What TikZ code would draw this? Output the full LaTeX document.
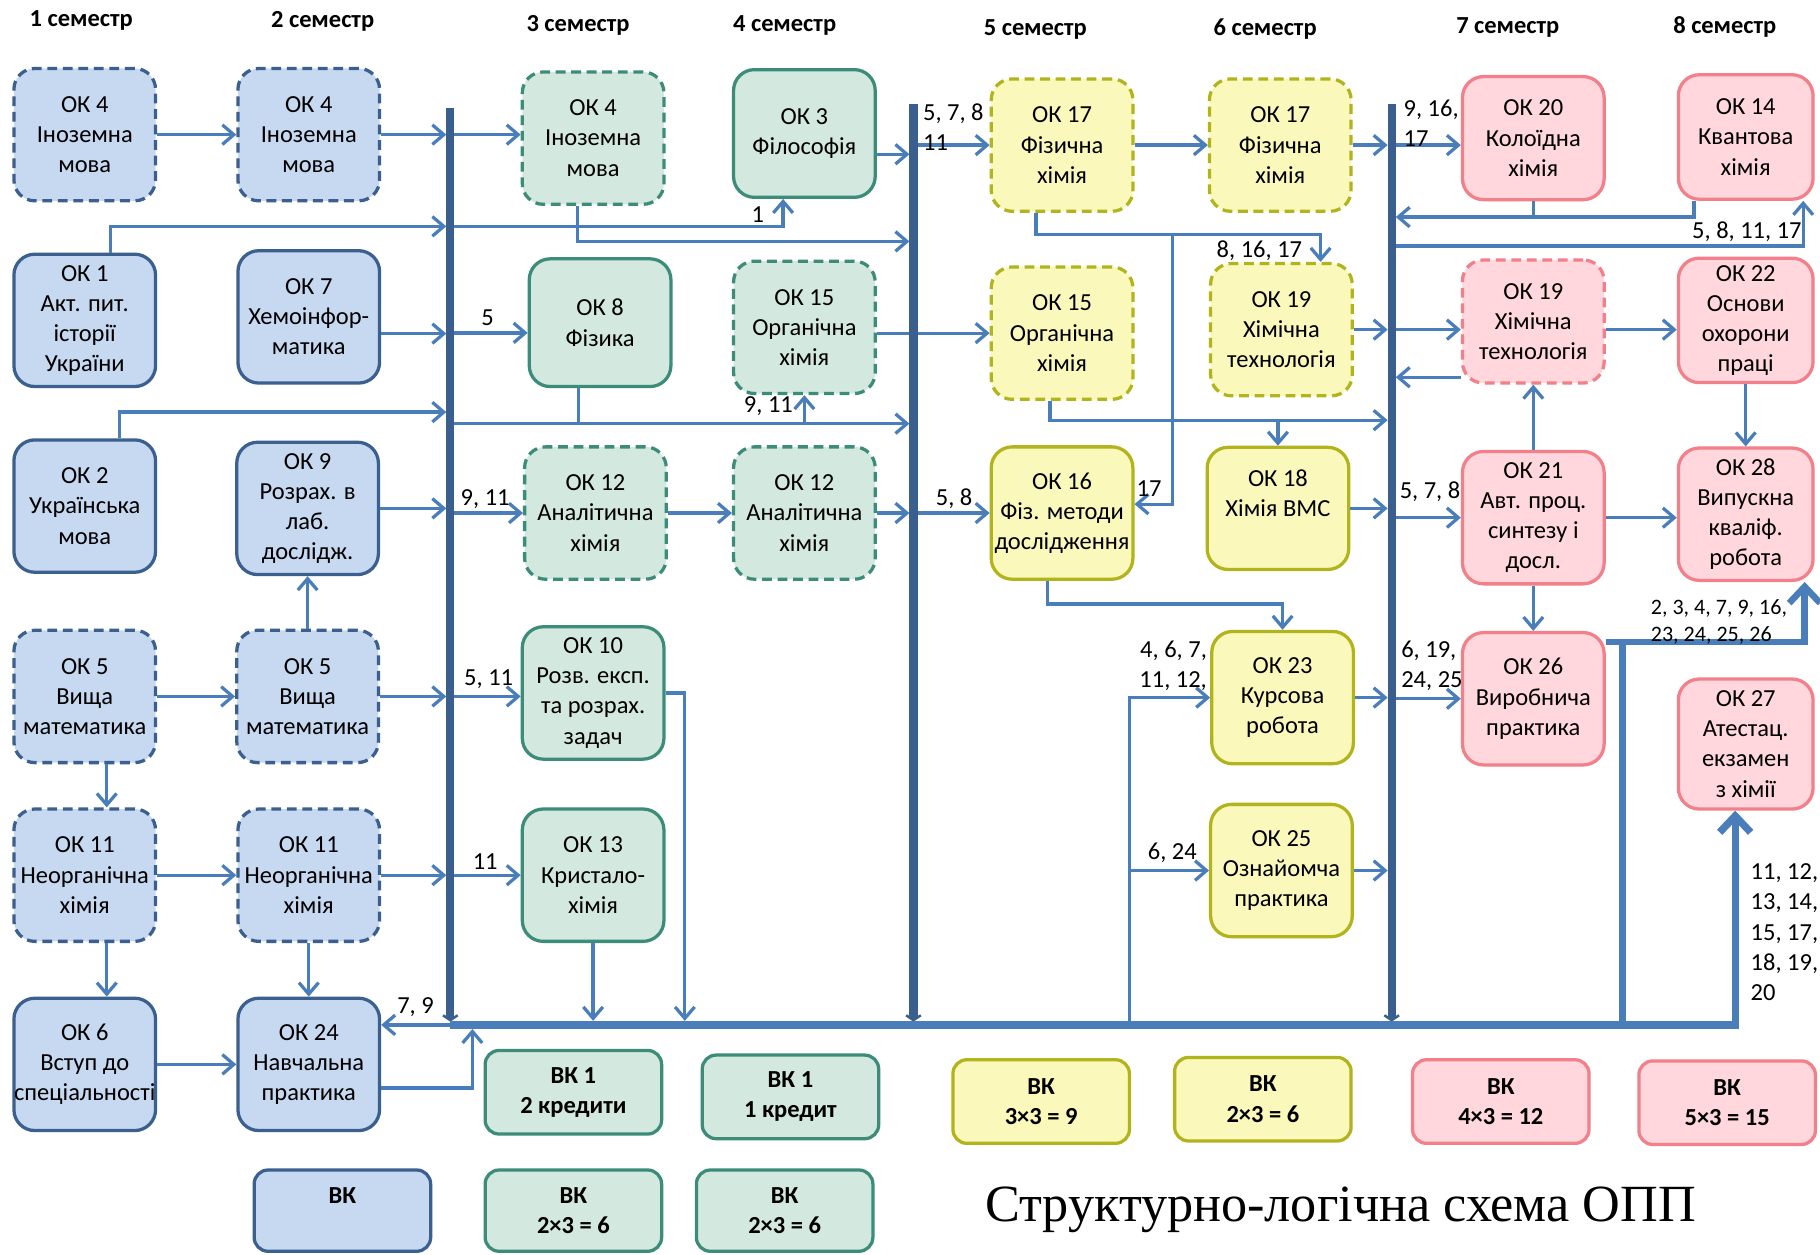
\documentclass[tikz,border=0pt]{standalone}
\usepackage{fontspec}
\setmainfont{Carlito}
\newfontfamily\titlefont{Liberation Serif}
\usetikzlibrary{arrows.meta}
\definecolor{blfill}{HTML}{C6D9F1}
\definecolor{blline}{HTML}{3B5F8E}
\definecolor{grfill}{HTML}{D3E8DF}
\definecolor{grline}{HTML}{3D8C79}
\definecolor{yefill}{HTML}{FAF8BB}
\definecolor{yeline}{HTML}{B2B41E}
\definecolor{pkfill}{HTML}{FFD7DC}
\definecolor{pkline}{HTML}{F27F8A}
\definecolor{arblue}{HTML}{4A7EBB}
\definecolor{barblue}{HTML}{3A5E8E}
\newcommand{\okfont}{\fontsize{15}{18.5}\selectfont}

\begin{document}
\begin{tikzpicture}[x=0.025cm, y=-0.025cm,
ok/.style={draw, rounded corners=0.45cm, line width=2pt, minimum width=3.05cm, minimum height=2.85cm, align=center, inner sep=1pt, font=\okfont},
bl/.style={ok, fill=blfill, draw=blline},
gr/.style={ok, fill=grfill, draw=grline},
ye/.style={ok, fill=yefill, draw=yeline},
pk/.style={ok, fill=pkfill, draw=pkline},
dsh/.style={dash pattern=on 6pt off 3.5pt},
vk/.style={draw, rounded corners=0.3cm, line width=2pt, minimum width=3.8cm, minimum height=1.8cm, align=center, inner sep=1pt, font=\okfont\bfseries},
ar/.style={draw=arblue, line width=2pt, -{Straight Barb[length=7pt,width=12pt]}},
ln/.style={draw=arblue, line width=2pt},
tobar/.style={shorten >=2.5pt},
bar/.style={draw=barblue, line width=5pt, shorten >=2pt, -{Straight Barb[length=3pt,width=9pt,line width=1.5pt]}},
bus/.style={draw=arblue, line width=4.5pt, -{Straight Barb[length=10pt,width=19pt]}},
thk/.style={draw=arblue, line width=4pt, -{Straight Barb[length=10pt,width=19pt]}},
thkln/.style={draw=arblue, line width=4pt},
lbl/.style={font=\okfont, inner sep=0pt},
sem/.style={font=\okfont\bfseries, inner sep=0pt}]
\fill[white] (0,0) rectangle (1568,1081);
\useasboundingbox (0,0) rectangle (1568,1081);

\node[sem] (sem1) at (70,18) {1 семестр};
\node[sem] (sem2) at (278,18) {2 семестр};
\node[sem] (sem3) at (498,22) {3 семестр};
\node[sem] (sem4) at (676,22) {4 семестр};
\node[sem] (sem5) at (892,25) {5 семестр};
\node[sem] (sem6) at (1090,25) {6 семестр};
\node[sem] (sem7) at (1299,24) {7 семестр};
\node[sem] (sem8) at (1486,23) {8 семестр};

\node[bl, dsh] (ok4a) at (73,116) {ОК 4\\Іноземна\\мова};
\node[bl] (ok1) at (73,276) {ОК 1\\Акт. пит.\\історії\\України};
\node[bl] (ok2) at (73,436) {ОК 2\\Українська\\мова};
\node[bl, dsh] (ok5a) at (73,600) {ОК 5\\Вища\\математика};
\node[bl, dsh] (ok11a) at (73,754) {ОК 11\\Неорганічна\\хімія};
\node[bl] (ok6) at (73,917) {ОК 6\\Вступ до\\\makebox[2.9cm]{спеціальності}};

\node[bl, dsh] (ok4b) at (266,116) {ОК 4\\Іноземна\\мова};
\node[bl] (ok7) at (266,273) {ОК 7\\Хемоінфор-\\матика};
\node[bl] (ok9) at (265,438) {ОК 9\\Розрах. в\\лаб.\\дослідж.};
\node[bl, dsh] (ok5b) at (265,600) {ОК 5\\Вища\\математика};
\node[bl, dsh] (ok11b) at (266,754) {ОК 11\\Неорганічна\\хімія};
\node[bl] (ok24) at (266,917) {ОК 24\\Навчальна\\практика};

\node[gr, dsh] (ok4c) at (511,119) {ОК 4\\Іноземна\\мова};
\node[gr, minimum height=2.75cm] (ok8) at (517,278) {ОК 8\\Фізика};
\node[gr, dsh] (ok12a) at (513,442) {ОК 12\\Аналітична\\хімія};
\node[gr] (ok10) at (511,597) {ОК 10\\Розв. експ.\\та розрах.\\задач};
\node[gr] (ok13) at (511,754) {ОК 13\\Кристало-\\хімія};

\node[gr, minimum height=2.75cm] (ok3) at (693,115) {ОК 3\\Філософія};
\node[gr, dsh] (ok15a) at (693,282) {ОК 15\\Органічна\\хімія};
\node[gr, dsh] (ok12b) at (693,442) {ОК 12\\Аналітична\\хімія};

\node[ye, dsh] (ok17a) at (915,125) {ОК 17\\Фізична\\хімія};
\node[ye, dsh] (ok15b) at (915,287) {ОК 15\\Органічна\\хімія};
\node[ye] (ok16) at (915,442) {ОК 16\\Фіз. методи\\\makebox[2.9cm]{дослідження}};

\node[ye, dsh] (ok17b) at (1103,125) {ОК 17\\Фізична\\хімія};
\node[ye, dsh] (ok19a) at (1104,284) {ОК 19\\Хімічна\\технологія};
\node[ye, minimum height=2.63cm] (ok18) at (1101,438) {ОК 18\\Хімія ВМС\\\mbox{}};
\node[ye] (ok23) at (1105,601) {ОК 23\\Курсова\\робота};
\node[ye] (ok25) at (1104,750) {ОК 25\\Ознайомча\\практика};

\node[pk, minimum height=2.65cm] (ok20) at (1321,119) {ОК 20\\Колоїдна\\хімія};
\node[pk, dsh, minimum height=2.65cm] (ok19b) at (1321,277) {ОК 19\\Хімічна\\технологія};
\node[pk] (ok21) at (1321,446) {ОК 21\\Авт. проц.\\синтезу і\\досл.};
\node[pk] (ok26) at (1321,602) {ОК 26\\Виробнича\\практика};

\node[pk, minimum width=2.9cm, minimum height=2.68cm] (ok14) at (1504,118) {ОК 14\\Квантова\\хімія};
\node[pk, minimum width=2.9cm, minimum height=2.68cm] (ok22) at (1504,276) {ОК 22\\Основи\\охорони\\праці};
\node[pk, minimum width=2.9cm] (ok28) at (1504,443) {ОК 28\\Випускна\\кваліф.\\робота};
\node[pk, minimum width=2.9cm, minimum height=2.8cm] (ok27) at (1504,641) {ОК 27\\Атестац.\\екзамен\\з хімії};

\node[vk, fill=grfill, draw=grline] (vk1) at (494,941) {ВК 1\\2 кредити};
\node[vk, fill=grfill, draw=grline] (vk2) at (681,945) {ВК 1\\1 кредит};
\node[vk, fill=yefill, draw=yeline] (vk3) at (897,949) {ВК\\3×3 = 9};
\node[vk, fill=yefill, draw=yeline] (vk4) at (1088,947) {ВК\\2×3 = 6};
\node[vk, fill=pkfill, draw=pkline] (vk5) at (1293,949) {ВК\\4×3 = 12};
\node[vk, fill=pkfill, draw=pkline] (vk6) at (1488,950) {ВК\\5×3 = 15};
\node[vk, fill=blfill, draw=blline, minimum height=1.75cm] (vk7) at (295,1043) {ВК\\\mbox{}};
\node[vk, fill=grfill, draw=grline, minimum height=1.75cm] (vk8) at (494,1043) {ВК\\2×3 = 6};
\node[vk, fill=grfill, draw=grline, minimum height=1.75cm] (vk9) at (676,1043) {ВК\\2×3 = 6};

\node[font=\titlefont\fontsize{32}{38}\selectfont, inner sep=0pt] (title) at (1155,1042) {Структурно-логічна схема ОПП};

\coordinate (b1t) at (388,93);
\coordinate (b1b) at (388,883);
\coordinate (b2t) at (787,90);
\coordinate (b2b) at (787,883);
\coordinate (b3t) at (1199,90);
\coordinate (b3b) at (1199,883);
\coordinate (c1) at (388,195);
\coordinate (c2) at (787,208);
\coordinate (c3) at (1199,187);
\coordinate (c4) at (1199,212);
\coordinate (c5) at (1010,202);
\coordinate (c6) at (1199,325);
\coordinate (c7) at (388,355);
\coordinate (c8) at (388,365);
\coordinate (c9) at (787,365);
\coordinate (c10) at (1199,362);
\coordinate (c11) at (590,883);
\coordinate (c12) at (973,883);
\coordinate (c13) at (1398,555);
\coordinate (c14) at (407,883);

\draw[ar] (ok4a.east) -- (ok4b.west);
\draw[ar,tobar] (ok4b.east) -- (ok4b.east -| b1t);
\draw[ar] (b1t |- ok4b) -- (ok4c.west |- ok4b);
\draw[ar,tobar] (ok3.-16) -- (ok3.-16 -| b2t);
\draw[ar] (b2t |- ok17a) -- (ok17a.west);
\draw[ar] (ok17a.east) -- (ok17b.west);
\draw[ar,tobar] (ok17b.east) -- (ok17b.east -| b3t);
\draw[ar] (b3t |- ok17b) -- (ok20.west |- ok17b);

\draw[ar,tobar] (ok1.69) |- (c1);
\draw[ar] (c1) -| (ok3.-108);
\draw[ar,tobar] (ok4c.-103) |- (c2);
\draw[ln] (ok20.south) -- (ok20.south |- c3);
\draw[ar,tobar] (ok14.-129) |- (c3);
\draw[ar] (c4) -| (ok14.-48);
\draw[ar] (ok17a.-111) |- (c5) -| (ok19a.60);
\draw[ar] (c5) |- (ok16.7);

\draw[ar,tobar] (ok7.-13) -- (ok7.-13 -| b1t);
\draw[ar] (b1t |- ok8.188) -- (ok8.188);
\draw[ar] (ok15a.east |- ok15b) -- (ok15b.west);
\draw[ar,tobar] (ok19a.east) -- (ok19a.east -| b3t);
\draw[ar] (b3t |- ok19a) -- (ok19b.west |- ok19a);
\draw[ar] (ok19b.east |- ok19a) -- (ok22.west |- ok19a);
\draw[ar,tobar] (ok19b.west |- c6) -- (c6);
\draw[ar] (ok21.north) -- (ok19b.south);
\draw[ar] (ok22.south) -- (ok28.north);

\draw[ar,tobar] (ok2.63) |- (c7);
\draw[ar,tobar] (c8) -- (c9);
\draw[ln] (ok8.-108) -- (ok8.-108 |- c8);
\draw[ar] (ok15a.south |- c8) -- (ok15a.south);
\draw[ar,tobar] (ok15b.-100) |- (c10);
\draw[ar] (ok18.north |- c10) -- (ok18.north);

\draw[ar,tobar] (ok9.east) -- (ok9.east -| b1t);
\draw[ar] (b1t |- ok12a) -- (ok12a.west);
\draw[ar] (ok12a.east) -- (ok12b.west);
\draw[ar,tobar] (ok12b.east) -- (ok12b.east -| b2t);
\draw[ar] (b2t |- ok16) -- (ok16.west);
\draw[ar,tobar] (ok18.east) -- (ok18.east -| b3t);
\draw[ar] (b3t |- ok21) -- (ok21.west);
\draw[ar] (ok21.east) -- (ok28.west |- ok21);
\draw[ar] (ok5b.north) -- (ok9.south);

\draw[ar] (ok5a.east) -- (ok5b.west);
\draw[ar,tobar] (ok5b.east) -- (ok5b.east -| b1t);
\draw[ar] (b1t |- ok5b) -- (ok10.west |- ok5b);
\draw[ar,tobar] (ok10.east) -| (c11);
\draw[ar,tobar] (ok13.south) -- (ok13.south |- b1b);
\draw[ar] (ok16.-102) -- ++(0,20) -| (ok23.north);
\draw[ar] (c12) |- (ok23.west);
\draw[ar] (c12) |- (ok25.west);
\draw[ar,tobar] (ok23.east) -- (ok23.east -| b3t);
\draw[ar] (b3t |- ok26) -- (ok26.west);
\draw[ar] (ok21.south) -- (ok26.north);
\draw[thk] (ok26.38) -| (ok28.-49);
\draw[thkln] (c13) -- (c13 |- b1b);

\draw[ar] (ok11a.east) -- (ok11b.west);
\draw[ar,tobar] (ok11b.east) -- (ok11b.east -| b1t);
\draw[ar] (b1t |- ok13) -- (ok13.west);
\draw[ar] (ok5a.-72) -- (ok5a.-72 |- ok11a.north);
\draw[ar] (ok11a.-72) -- (ok11a.-72 |- ok6.north);
\draw[ar] (ok11b.south) -- (ok24.north);
\draw[ar,tobar] (ok25.east) -- (ok25.east -| b3t);

\draw[ar] (ok6.east) -- (ok24.west);
\draw[ar,tobar] (ok24.-18) -| (c14);
\draw[ar] (b1b) -- (ok24.east |- b1b);

\draw[bar] (b1t) -- (b1b);
\draw[bar] (b2t) -- (b2b);
\draw[bar] (b3t) -- (b3b);
\draw[bus] (b1b) -| (ok27.-99);

\node[lbl, anchor=north west, align=left] (l1) at (795,89) {5, 7, 8\\11};
\node[lbl] (l2) at (653,185) {1};
\node[lbl, anchor=north west, align=left] (l3) at (1209,86) {9, 16,\\17};
\node[lbl] (l4) at (1505,200) {5, 8, 11, 17};
\node[lbl] (l5) at (1085,216) {8, 16, 17};
\node[lbl] (l6) at (990,421) {17};
\node[lbl] (l7) at (420,274) {5};
\node[lbl] (l8) at (662,350) {9, 11};
\node[lbl] (l9) at (418,430) {9, 11};
\node[lbl] (l10) at (822,430) {5, 8};
\node[lbl] (l11) at (1232,424) {5, 7, 8};
\node[lbl] (l12) at (421,585) {5, 11};
\node[lbl, anchor=north east, align=right] (l13) at (1040,552) {4, 6, 7,\\11, 12,};
\node[lbl, anchor=north west, align=left] (l14) at (1207,552) {6, 19,\\24, 25};
\node[lbl, anchor=north west, align=left, font=\fontsize{13.5}{16.5}\selectfont] (l15) at (1422,516) {2, 3, 4, 7, 9, 16,\\23, 24, 25, 26};
\node[lbl] (l16) at (418,742) {11};
\node[lbl] (l17) at (1010,735) {6, 24};
\node[lbl] (l18) at (358,868) {7, 9};
\node[lbl, anchor=north west, align=left] (l19) at (1508,744) {11, 12,\\13, 14,\\15, 17,\\18, 19,\\20};
\end{tikzpicture}
\end{document}
